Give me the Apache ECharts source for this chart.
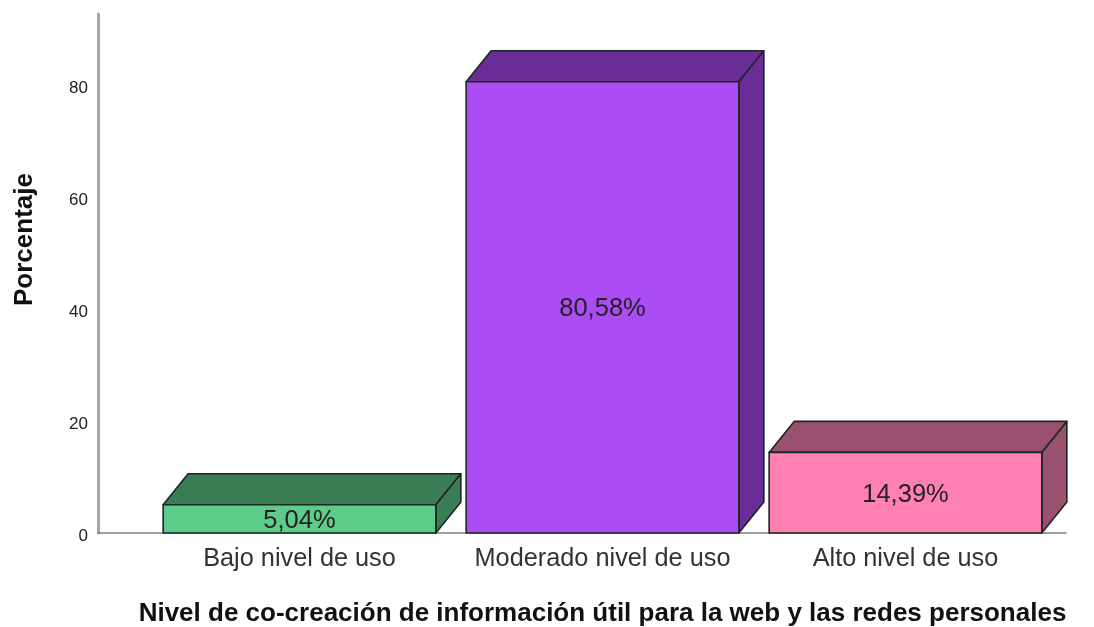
<!DOCTYPE html>
<html><head><meta charset="utf-8">
<style>html,body{margin:0;padding:0;background:#fff}#c{width:1094px;height:627px}</style>
<script src="https://cdn.jsdelivr.net/npm/echarts@6/dist/echarts.min.js"></script>
</head><body><div id="c"></div>
<script>
const categories = ['Bajo nivel de uso', 'Moderado nivel de uso', 'Alto nivel de uso'];
const percentages = [5.04, 80.58, 14.39];
const percentLabels = ['5,04%', '80,58%', '14,39%'];
const yTicks = [0, 20, 40, 60, 80];
const frontColors = ['#5ECB8A', '#AB4CF5', '#FF80B2'];
const darkColors = ['#3A7D55', '#6A2D95', '#9A516E'];
const DEPTH_X = 25, DEPTH_Y = 31;
const FONT = '"Liberation Sans", Arial, sans-serif';
const edge = '#1c2622';

function renderBar(params, api) {
  const i = api.value(0);
  const base = api.coord([i, 0]);
  const top = api.coord([i, api.value(1)]);
  const w = api.size([1, 0])[0] * 0.9;
  const x0 = base[0] - w / 2, x1 = base[0] + w / 2, yb = base[1], yt = top[1];
  const style = c => ({ fill: c, stroke: edge, lineWidth: 1.6, lineJoin: 'round' });
  return {
    type: 'group',
    children: [
      { type: 'polygon', shape: { points: [[x0, yt], [x0 + DEPTH_X, yt - DEPTH_Y], [x1 + DEPTH_X, yt - DEPTH_Y], [x1, yt]] }, style: style(darkColors[i]) },
      { type: 'polygon', shape: { points: [[x1, yt], [x1 + DEPTH_X, yt - DEPTH_Y], [x1 + DEPTH_X, yb - DEPTH_Y], [x1, yb]] }, style: style(darkColors[i]) },
      { type: 'rect', shape: { x: x0, y: yt, width: w, height: yb - yt }, style: style(frontColors[i]) },
      { type: 'text', x: base[0], y: (yt + yb) / 2 + 2, style: { text: percentLabels[i], fill: '#222', font: '25.5px ' + FONT, align: 'center', verticalAlign: 'middle' } }
    ]
  };
}

const chart = echarts.init(document.getElementById('c'), null, { renderer: 'canvas' });
chart.setOption({
  animation: false,
  backgroundColor: '#fff',
  grid: [
    { left: 148, width: 909, top: 14, bottom: 94, outerBoundsMode: 'none', containLabel: false },
    { left: 98, right: 28, top: 14, bottom: 94, outerBoundsMode: 'none', containLabel: false }
  ],
  xAxis: [
    {
      type: 'category', gridIndex: 0, data: categories,
      axisLine: { show: false }, axisTick: { show: false },
      axisLabel: { fontFamily: FONT, fontSize: 25.3, color: '#333', margin: 14, interval: 0, hideOverlap: false },
      name: 'Nivel de co-creación de información útil para la web y las redes personales',
      nameLocation: 'middle', nameGap: 68,
      nameTextStyle: { fontFamily: FONT, fontSize: 26, fontWeight: 'bold', color: '#111' }
    },
    {
      type: 'value', gridIndex: 1, min: 0, max: 1,
      axisLine: { show: true, onZero: false, lineStyle: { color: '#808080', width: 1.5 } },
      axisTick: { show: false }, axisLabel: { show: false }, splitLine: { show: false }
    }
  ],
  yAxis: [
    { type: 'value', gridIndex: 0, min: 0, max: 92.68, show: false, splitLine: { show: false } },
    {
      type: 'value', gridIndex: 1, min: 0, max: 92.68, interval: 20,
      axisLine: { show: true, lineStyle: { color: '#a6a6a6', width: 3 } },
      axisTick: { show: false }, splitLine: { show: false },
      axisLabel: {
        fontFamily: FONT, fontSize: 17, color: '#222', margin: 10, showMaxLabel: false,
        verticalAlign: 'top', lineHeight: 6,
        formatter: v => yTicks.includes(v) ? String(v) : ''
      },
      name: 'Porcentaje', nameLocation: 'middle', nameGap: 60,
      nameTextStyle: { fontFamily: FONT, fontSize: 26, fontWeight: 'bold', color: '#111', padding: [0, 0, 0, 68] }
    }
  ],
  series: [{
    type: 'custom', xAxisIndex: 0, yAxisIndex: 0, clip: false,
    renderItem: renderBar,
    encode: { x: 0, y: 1 },
    data: percentages.map((v, i) => [i, v])
  }]
});
</script></body></html>
